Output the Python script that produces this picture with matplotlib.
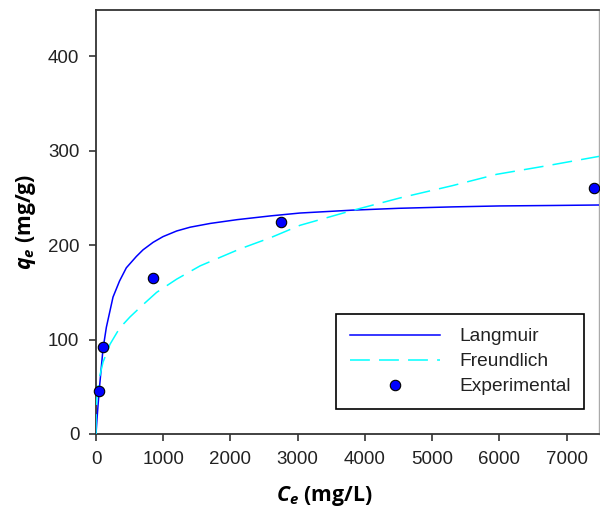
import matplotlib
matplotlib.use("Agg")
import matplotlib.pyplot as plt
from matplotlib.lines import Line2D

plt.rcParams['mathtext.fontset'] = 'custom'
plt.rcParams['mathtext.it'] = 'Open Sans:italic:bold'
plt.rcParams['mathtext.rm'] = 'Open Sans:bold'
plt.rcParams['mathtext.bf'] = 'Open Sans:bold'

# Experimental data
exp_ce = [45, 100, 848, 2751, 7406]
exp_q = [46, 92, 165, 225, 260]

# Langmuir curve
lang_ce = [0, 15, 30, 55, 104, 154, 253, 350, 451, 600, 699, 850, 996, 1200, 1400,
           1700, 2100, 2600, 3034, 3800, 4500, 5300, 6000, 6800, 7480]
lang_q = [0, 16, 30, 52, 90, 113, 145, 162, 176, 188, 195, 203, 209, 215, 219,
          223, 227, 231, 234, 237, 239, 240.5, 241.5, 242, 242.5]

# Freundlich curve
freu_ce = [0, 1, 10, 30, 55, 104, 208, 350, 506, 700, 902, 1200, 1547, 2141, 2600,
           3034, 3800, 4521, 5300, 5959, 6700, 7480]
freu_q = [0, 17, 36, 50, 61, 76, 95, 112, 124, 137, 150, 164, 178, 196, 208,
          221, 236.5, 250, 263, 275, 284, 294]

x_ticks = [0, 1000, 2000, 3000, 4000, 5000, 6000, 7000]
y_ticks = [0, 100, 200, 300, 400]

W, H = 600, 509
fig = plt.figure(figsize=(6.0, 5.09), dpi=100)
ax = fig.add_axes([96 / W, (H - 434) / H, (599 - 96) / W, (434 - 10) / H])

ax.plot(lang_ce, lang_q, color='#0000FF', lw=1.1, zorder=3)
ax.plot(freu_ce, freu_q, color='#00FFFF', lw=1.1, dashes=(13, 6), zorder=3)
ax.plot(exp_ce, exp_q, 'o', color='#0000FF', markeredgecolor='black', markeredgewidth=0.8,
        markersize=7.5, zorder=4, clip_on=False)

ax.set_xlim(0, 7480)
ax.set_ylim(0, 449)
ax.set_xticks(x_ticks)
ax.set_yticks(y_ticks)

tick_font = dict(family=['Liberation Sans', 'DejaVu Sans'], size=13.5)
ax.set_xticklabels([str(t) for t in x_ticks], **tick_font, color='#222222')
ax.set_yticklabels([str(t) for t in y_ticks], **tick_font, color='#222222')
ax.tick_params(direction='out', length=5, width=1.2, color='#333333', pad=7)

for s in ['left', 'bottom', 'top']:
    ax.spines[s].set_color('#333333')
    ax.spines[s].set_linewidth(1.3)
ax.spines['right'].set_color('#aaaaaa')
ax.spines['right'].set_linewidth(1.0)

lab_font = dict(family=['Open Sans', 'DejaVu Sans'], size=15.3, weight='bold')
ax.set_xlabel(r'$C_e$ (mg/L)', **lab_font)
ax.set_ylabel(r'$q_e$ (mg/g)', **lab_font)
ax.xaxis.set_label_coords((324 - 96) / (599 - 96), -(484 - 434) / (434 - 10))
ax.yaxis.set_label_coords(-(96 - 38) / (599 - 96), 0.5)

handles = [
    Line2D([], [], color='#0000FF', lw=1.1),
    Line2D([], [], color='#00FFFF', lw=1.1, dashes=(13, 6)),
    Line2D([], [], ls='none', marker='o', color='#0000FF', markeredgecolor='black',
           markeredgewidth=0.8, markersize=7.5),
]
leg = ax.legend(handles, ['Langmuir', 'Freundlich', 'Experimental'],
                loc='upper left', bbox_to_anchor=(336 / W, 1 - 314 / H),
                bbox_transform=fig.transFigure,
                prop=dict(family=['Liberation Sans', 'DejaVu Sans'], size=13.8),
                frameon=True, fancybox=False, edgecolor='black', framealpha=1,
                handlelength=4.7, handletextpad=1.0, labelspacing=0.4,
                borderpad=0.72, borderaxespad=0)
leg.get_frame().set_linewidth(1.2)
for t in leg.get_texts():
    t.set_color('#222222')

fig.savefig('out.png', dpi=100)
